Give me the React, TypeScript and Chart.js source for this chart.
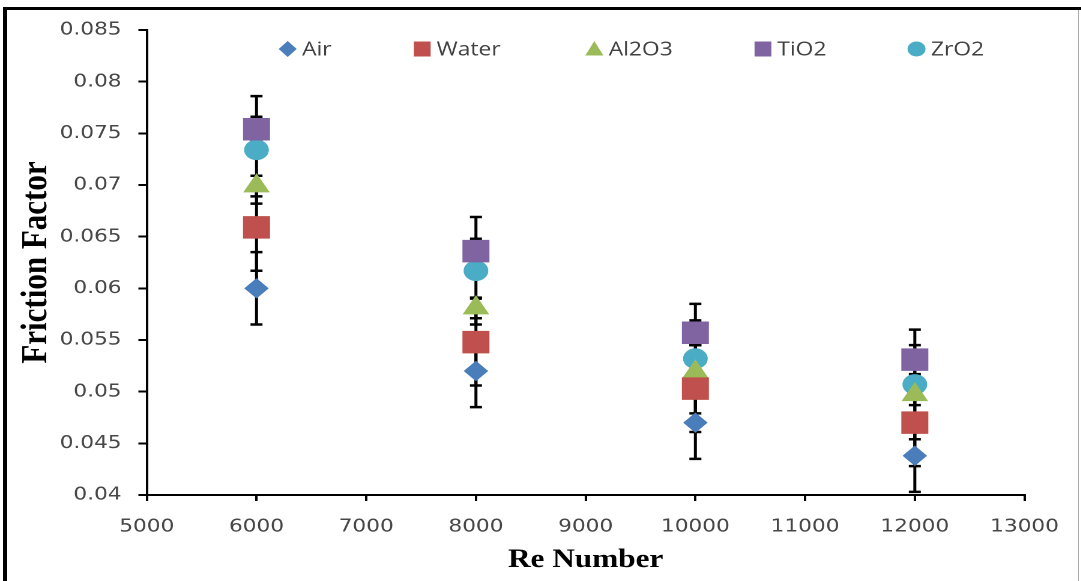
import React, { useEffect, useRef } from "react";
import { Chart, registerables } from "chart.js";

Chart.register(...registerables);

// ---- data ----
const reNumbers = [6000, 8000, 10000, 12000];
const seriesNames = ["Air", "Water", "Al2O3", "TiO2", "ZrO2"];
const airValues = [0.06, 0.052, 0.047, 0.0438];
const waterValues = [0.0659, 0.0548, 0.0503, 0.047];
const al2o3Values = [0.0699, 0.0581, 0.0519, 0.0497];
const tio2Values = [0.0754, 0.0636, 0.0557, 0.0531];
const zro2Values = [0.0734, 0.0617, 0.0532, 0.0507];
const airErrors = [0.0035, 0.0035, 0.0035, 0.0035];
const waterErrors = [0.0042, 0.0042, 0.0042, 0.0042];
const al2o3Errors = [0.001, 0.001, 0.001, 0.001];
const tio2Errors = [0.0012, 0.0012, 0.0012, 0.0014];
const zro2Errors = [0.0052, 0.0052, 0.0053, 0.0053];
const xTickValues = [5000, 6000, 7000, 8000, 9000, 10000, 11000, 12000, 13000];
const xTickLabels = ["5000", "6000", "7000", "8000", "9000", "10000", "11000", "12000", "13000"];
const yTickValues = [0.04, 0.045, 0.05, 0.055, 0.06, 0.065, 0.07, 0.075, 0.08, 0.085];
const yTickLabels = ["0.04", "0.045", "0.05", "0.055", "0.06", "0.065", "0.07", "0.075", "0.08", "0.085"];
const xTitle = "Re Number";
const yTitle = "Friction Factor";

const seriesValues = [airValues, waterValues, al2o3Values, tio2Values, zro2Values];
const seriesErrors = [airErrors, waterErrors, al2o3Errors, tio2Errors, zro2Errors];

// ---- styles ----
const colors = ["#4A7EBB", "#C0504D", "#9BBB59", "#8064A2", "#4BACC6"];
const pointStyles = ["rectRot", "rect", "triangle", "rect", "circle"];
const pointRadii = [9.5, 15.2, 11.8, 15.2, 9.8];

const SX = 1.2; // horizontal stretch of the original picture
const W = 1081 / SX;
const H = 581;
const AXIS_LEFT = 146.7 / SX;
const AXIS_RIGHT = 1024 / SX;
const LEGEND_MARKER_X = [287.5, 422, 594, 762.5, 916].map((v) => v / SX);
const LEGEND_Y = 49;

const errorBarPlugin = {
  id: "errorBars",
  beforeDatasetsDraw(chart: any) {
    const { ctx } = chart;
    const xs = chart.scales.x;
    const ys = chart.scales.y;
    ctx.save();
    ctx.strokeStyle = "#000";
    ctx.lineWidth = 2.5;
    chart.data.datasets.forEach((ds: any, i: number) => {
      const errs = seriesErrors[i];
      ds.data.forEach((pt: any, j: number) => {
        const px = xs.getPixelForValue(pt.x);
        const hi = ys.getPixelForValue(pt.y + errs[j]);
        const lo = ys.getPixelForValue(pt.y - errs[j]);
        ctx.beginPath();
        ctx.moveTo(px, hi);
        ctx.lineTo(px, lo);
        ctx.moveTo(px - 5, hi);
        ctx.lineTo(px + 5, hi);
        ctx.moveTo(px - 5, lo);
        ctx.lineTo(px + 5, lo);
        ctx.stroke();
      });
    });
    ctx.restore();
  },
};

const legendPlugin = {
  id: "customLegend",
  afterDraw(chart: any) {
    const { ctx } = chart;
    ctx.save();
    chart.data.datasets.forEach((ds: any, i: number) => {
      const cx = LEGEND_MARKER_X[i];
      const cy = LEGEND_Y;
      ctx.fillStyle = colors[i];
      ctx.beginPath();
      const st = pointStyles[i];
      if (st === "rectRot") {
        ctx.moveTo(cx - 7.5, cy);
        ctx.lineTo(cx, cy - 8);
        ctx.lineTo(cx + 7.5, cy);
        ctx.lineTo(cx, cy + 8);
        ctx.closePath();
      } else if (st === "rect") {
        ctx.rect(cx - 7, cy - 7.5, 14, 15);
      } else if (st === "triangle") {
        ctx.moveTo(cx, cy - 8);
        ctx.lineTo(cx + 7.5, cy + 6.5);
        ctx.lineTo(cx - 7.5, cy + 6.5);
        ctx.closePath();
      } else {
        ctx.arc(cx, cy, 7.5, 0, Math.PI * 2);
      }
      ctx.fill();
      ctx.fillStyle = "#404040";
      ctx.font = "19px 'Open Sans'";
      ctx.textBaseline = "middle";
      ctx.textAlign = "left";
      ctx.fillText(ds.label, cx + 12, cy + 1);
    });
    ctx.restore();
  },
};

export default function App() {
  const canvasRef = useRef<HTMLCanvasElement | null>(null);

  useEffect(() => {
    if (!canvasRef.current) return;
    const chart = new Chart(canvasRef.current, {
      type: "scatter",
      data: {
        datasets: seriesNames.map((name, i) => ({
          label: name,
          data: reNumbers.map((x, j) => ({ x, y: seriesValues[i][j] })),
          pointStyle: pointStyles[i] as any,
          pointRadius: pointRadii[i],
          pointHoverRadius: pointRadii[i],
          backgroundColor: colors[i],
          borderColor: colors[i],
          borderWidth: 1,
          showLine: false,
        })),
      },
      options: {
        animation: false,
        responsive: true,
        maintainAspectRatio: false,
        devicePixelRatio: 2,
        events: [],
        layout: { padding: { top: 30, right: W - AXIS_RIGHT, bottom: 0, left: 0 } },
        plugins: {
          legend: { display: false },
          tooltip: { enabled: false },
        },
        scales: {
          x: {
            type: "linear",
            min: 5000,
            max: 13000,
            afterBuildTicks: (s: any) => {
              s.ticks = xTickValues.map((v) => ({ value: v }));
            },
            afterFit: (s: any) => {
              s.height = H - 495;
            },
            ticks: {
              autoSkip: false,
              maxRotation: 0,
              padding: 15,
              color: "#474747",
              font: { family: "'DejaVu Sans'", size: 18 },
              callback: (_v: any, i: number) => xTickLabels[i],
            },
            grid: {
              display: true,
              drawOnChartArea: false,
              drawTicks: true,
              tickLength: 6,
              color: "#000",
              lineWidth: 2,
            },
            border: { display: true, color: "#000", width: 2 },
            title: {
              display: true,
              text: xTitle,
              color: "#000",
              font: { family: "'Liberation Serif'", size: 26, weight: "bold" },
              padding: { top: 0, bottom: 5 },
            },
          },
          y: {
            type: "linear",
            min: 0.04,
            max: 0.085,
            afterBuildTicks: (s: any) => {
              s.ticks = yTickValues.map((v) => ({ value: v }));
            },
            afterFit: (s: any) => {
              s.width = AXIS_LEFT;
            },
            ticks: {
              autoSkip: false,
              padding: 14,
              color: "#474747",
              font: { family: "'DejaVu Sans'", size: 18 },
              callback: (_v: any, i: number) => yTickLabels[i],
            },
            grid: {
              display: true,
              drawOnChartArea: false,
              drawTicks: true,
              tickLength: 7,
              color: "#000",
              lineWidth: 2,
            },
            border: { display: true, color: "#000", width: 2 },
            title: {
              display: true,
              text: yTitle,
              color: "#000",
              font: { family: "'Liberation Serif'", size: 31, weight: "bold" },
              padding: { top: 12, bottom: 0 },
            },
          },
        },
      },
      plugins: [errorBarPlugin, legendPlugin],
    });
    return () => chart.destroy();
  }, []);

  return (
    <div
      style={{
        position: "fixed",
        left: 0,
        top: 0,
        width: 1081,
        height: 581,
        overflow: "hidden",
        background: "#fff",
      }}
    >
      <div
        style={{
          position: "absolute",
          left: 0,
          top: 0,
          width: W,
          height: H,
          transform: `scaleX(${SX})`,
          transformOrigin: "0 0",
        }}
      >
        <canvas ref={canvasRef} />
      </div>
      <div style={{ position: "absolute", left: 3, top: 7, width: 1078, height: 3, background: "#000" }} />
      <div style={{ position: "absolute", left: 3, top: 7, width: 4, height: 574, background: "#000" }} />
      <div style={{ position: "absolute", left: 1078, top: 10, width: 1, height: 571, background: "#aaa" }} />
    </div>
  );
}
